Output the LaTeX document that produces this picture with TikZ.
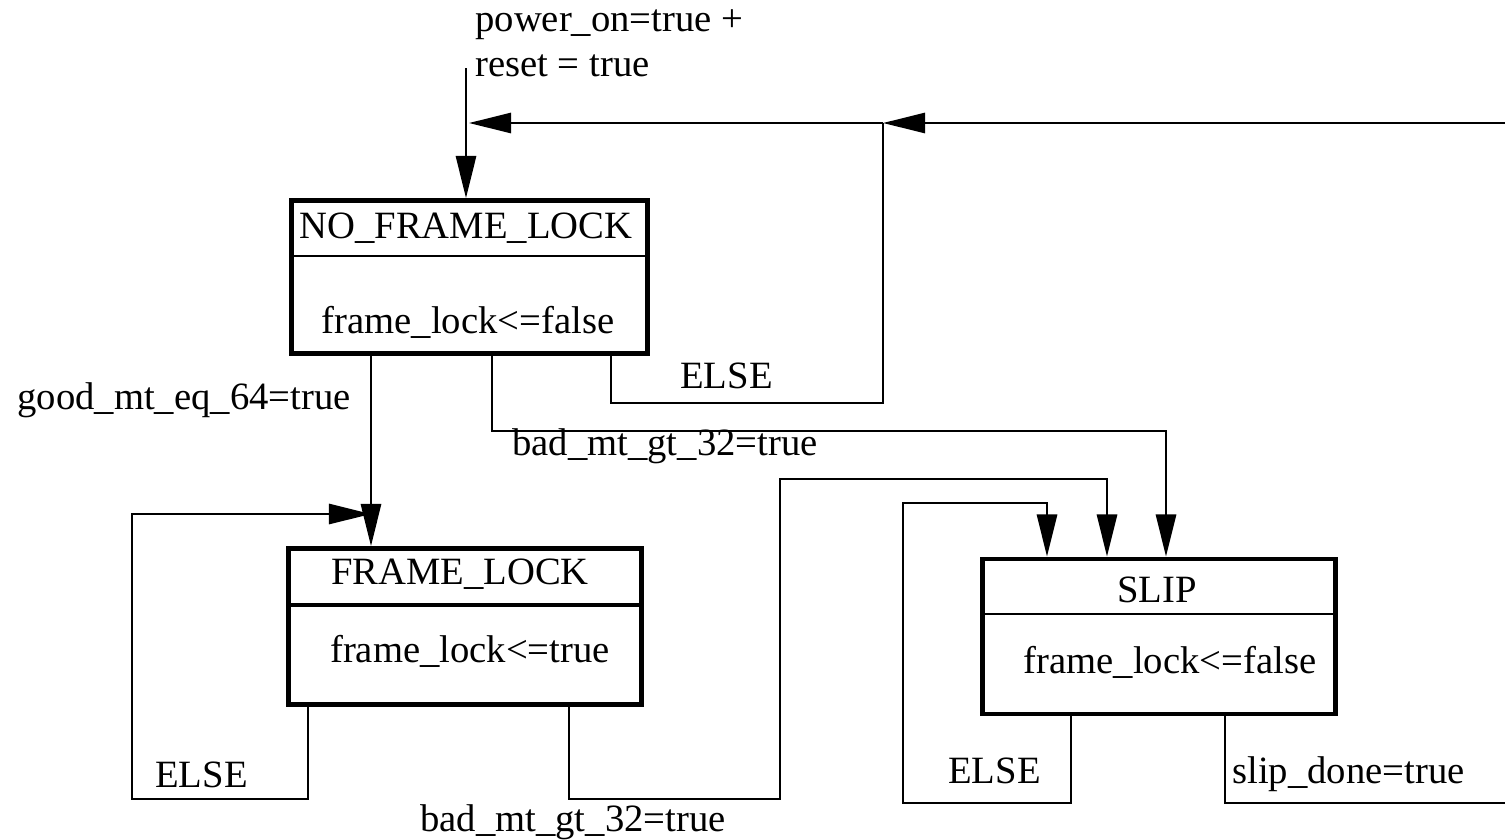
\documentclass[tikz,border=0pt]{standalone}
\usepackage{fontspec}
\setmainfont{Liberation Serif}
\usetikzlibrary{arrows.meta,calc}

\tikzset{
  statebox/.style={draw, line width=2.8pt, inner sep=0pt},
  divline/.style={line width=1.1pt},
  flow/.style={line width=1.4pt},
  flowarrow/.style={flow, -{Triangle[length=24pt,width=11.5pt]}},
  lbl/.style={inner sep=0pt, font=\fontsize{22}{26}\selectfont},
}

\begin{document}
\begin{tikzpicture}[x=0.02cm, y=-0.02cm]
  \clip (0,0) rectangle (1505,839);

  % === STATE: NO_FRAME_LOCK ===
  \node[statebox, minimum width=7.12cm, minimum height=3.06cm] (nfl) at (469.5,277) {};
  \draw[divline] ($(nfl.north west)!0.365!(nfl.south west)$) -- ($(nfl.north east)!0.365!(nfl.south east)$);
  \node[lbl, anchor=base] (nflname) at (466,238) {NO\_FRAME\_LOCK};
  \node[lbl, anchor=base] (nflact) at (468,333) {frame\_lock<=false};

  % === STATE: FRAME_LOCK ===
  \node[statebox, minimum width=7.06cm, minimum height=3.12cm] (fl) at (465,626.5) {};
  \draw[line width=2.3pt] ($(fl.north west)!0.365!(fl.south west)$) -- ($(fl.north east)!0.365!(fl.south east)$);
  \node[lbl, anchor=base] (flname) at (460,584) {FRAME\_LOCK};
  \node[lbl, anchor=base] (flact) at (470,662) {frame\_lock<=true};

  % === STATE: SLIP ===
  \node[statebox, minimum width=7.06cm, minimum height=3.1cm] (slip) at (1159,636.5) {};
  \draw[divline] ($(slip.north west)!0.362!(slip.south west)$) -- ($(slip.north east)!0.362!(slip.south east)$);
  \node[lbl, anchor=base] (slipname) at (1157,602) {SLIP};
  \node[lbl, anchor=base] (slipact) at (1170,673) {frame\_lock<=false};

  % exit points on the box edges
  \coordinate (g0) at ($(nfl.south west)!0.227!(nfl.south east)$);
  \coordinate (b0) at ($(nfl.south west)!0.562!(nfl.south east)$);
  \coordinate (n2) at ($(nfl.south west)!0.892!(nfl.south east)$);
  \coordinate (e0) at ($(fl.south west)!0.061!(fl.south east)$);
  \coordinate (f0) at ($(fl.south west)!0.79!(fl.south east)$);
  \coordinate (s0) at ($(slip.south west)!0.254!(slip.south east)$);
  \coordinate (s1) at ($(slip.south west)!0.684!(slip.south east)$);

  % bend points
  \coordinate (init) at (466,68);
  \coordinate (merge) at (469,123);
  \coordinate (fbJ) at (883,123);
  \coordinate (neA) at (883,403);
  \coordinate (bA) at (1166,431);
  \coordinate (flbot) at (132,799);
  \coordinate (fltop) at (132,514);
  \coordinate (fbA) at (780,799);
  \coordinate (fbB) at (1107,479);
  \coordinate (seA) at (903,803);
  \coordinate (seB) at (1047,503);
  \coordinate (sdA) at (1530,803);

  % === Transitions ===
  % reset entry
  \draw[flowarrow] (init) -- (init |- nfl.north);
  \node[lbl, anchor=base west] (pwr) at (475,31) {power\_on=true +};
  \node[lbl, anchor=base west] (rst) at (475,76) {reset = true};

  % back to NO_FRAME_LOCK
  \draw[flowarrow] (fbJ) -- (merge);
  \draw[flow] (n2) |- (neA) -- (fbJ);
  \node[lbl, anchor=base west] (nflelse) at (680,388) {ELSE};
  \draw[flowarrow] (s1) |- (sdA) |- (fbJ);
  \node[lbl, anchor=base west] (sdone) at (1232,783) {slip\_done=true};

  % NO_FRAME_LOCK -> FRAME_LOCK
  \draw[flowarrow] (g0) -- (g0 |- fl.north);
  \node[lbl, anchor=base east] (good) at (351,409) {good\_mt\_eq\_64=true};

  % FRAME_LOCK self loop
  \draw[flowarrow] (e0) |- (flbot) -- (fltop) -- (fltop -| g0);
  \node[lbl, anchor=base west] (flelse) at (155,787) {ELSE};

  % NO_FRAME_LOCK -> SLIP
  \draw[flowarrow] (b0) |- (bA) -- (bA |- slip.north);
  \node[lbl, anchor=base west] (bad1) at (512,455) {bad\_mt\_gt\_32=true};

  % FRAME_LOCK -> SLIP
  \draw[flowarrow] (f0) |- (fbA) -- (fbA |- fbB) -- (fbB) -- (fbB |- slip.north);
  \node[lbl, anchor=base west] (bad2) at (420,831) {bad\_mt\_gt\_32=true};

  % SLIP self loop
  \draw[flowarrow] (s0) |- (seA) -- (seA |- seB) -- (seB) -- (seB |- slip.north);
  \node[lbl, anchor=base west] (slipelse) at (948,783) {ELSE};
\end{tikzpicture}
\end{document}
